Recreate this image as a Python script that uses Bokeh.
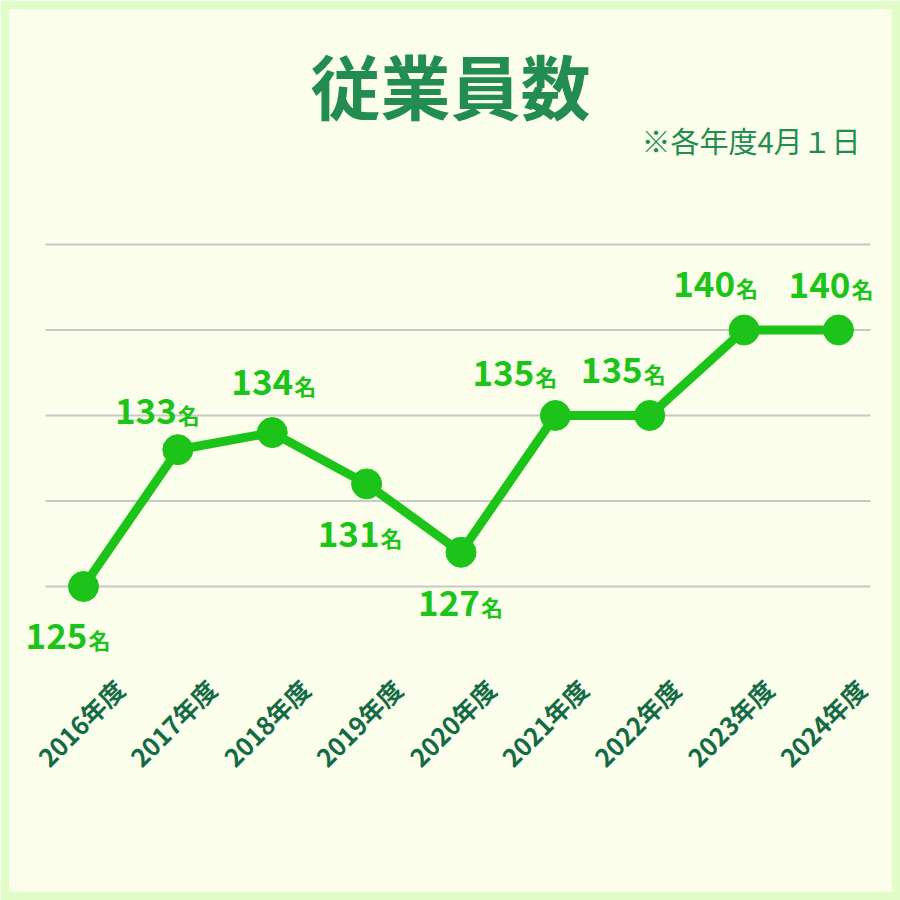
import math
from bokeh.plotting import figure
from bokeh.models import Range1d, LabelSet, Label, ColumnDataSource
from bokeh.core.properties import value
from bokeh.embed import file_html
from bokeh.resources import INLINE

# ---- data ----
years = [2016, 2017, 2018, 2019, 2020, 2021, 2022, 2023, 2024]
employees = [125, 133, 134, 131, 127, 135, 135, 140, 140]
tick_labels = ["2016年度", "2017年度", "2018年度", "2019年度", "2020年度",
               "2021年度", "2022年度", "2023年度", "2024年度"]
grid_values = [125, 130, 135, 140, 145]
title_text = "従業員数"
subtitle_text = "※各年度4月１日"
unit_text = "名"

# ---- styles ----
BG = "#fafeea"
RING = "#e2fcc8"
LINE_GREEN = "#1cc41a"
TITLE_GREEN = "#238c50"
TICK_GREEN = "#136a45"
CJK = "Noto Sans CJK JP"

# label placement (pixels): right end of number and baseline, relative to point
num_dx = [4, -1, 21, 13, 19, -21, -7, -9, 12]
num_dy = [-62, 26, 38, -63, -64, 30, 33, 33, 32]
tick_dx = [-3, -5, -6, -8, -9, -11, -13, -14, -16]
grid_x0, grid_x1 = 2015.597, 2024.339

p = figure(width=900, height=900, output_backend="svg", toolbar_location=None,
           x_range=Range1d(2015.2159, 2024.5616), y_range=Range1d(107.164, 158.743),
           min_border_left=9, min_border_right=9, min_border_top=9, min_border_bottom=9,
           background_fill_color=BG, border_fill_color=RING, outline_line_color=None)
p.xaxis.visible = False
p.yaxis.visible = False
p.xgrid.visible = False
p.ygrid.visible = False

grid_src = ColumnDataSource(dict(y=grid_values,
                                 x0=[grid_x0] * len(grid_values),
                                 x1=[grid_x1] * len(grid_values)))
p.segment(x0="x0", y0="y", x1="x1", y1="y", source=grid_src,
          line_color="#c8c8c8", line_width=2)

src = ColumnDataSource(dict(
    x=years, y=employees,
    num=[str(v) for v in employees],
    unit=[unit_text] * len(years),
    ndx=num_dx, ndy=num_dy,
    udx=[d + 1 for d in num_dx],
    tick=tick_labels, tdx=tick_dx,
    ty=[117.047] * len(years),
))

p.line("x", "y", source=src, line_width=9, line_color=LINE_GREEN, line_join="round")
p.scatter("x", "y", source=src, size=30, fill_color=LINE_GREEN, line_color=LINE_GREEN)

p.add_layout(LabelSet(x="x", y="y", text="num", source=src, x_offset="ndx", y_offset="ndy",
                      text_align="right", text_baseline="alphabetic",
                      text_font=value(CJK), text_font_style="bold", text_font_size="35px",
                      text_color=LINE_GREEN))
p.add_layout(LabelSet(x="x", y="y", text="unit", source=src, x_offset="udx", y_offset="ndy",
                      text_align="left", text_baseline="alphabetic",
                      text_font=value(CJK), text_font_style="bold", text_font_size="22px",
                      text_color=LINE_GREEN))
p.add_layout(LabelSet(x="x", y="ty", text="tick", source=src, x_offset="tdx",
                      angle=math.pi / 4, text_align="center", text_baseline="middle",
                      text_font=value(CJK), text_font_style="bold", text_font_size="25px",
                      text_color=TICK_GREEN))

p.add_layout(Label(x=2019.889, y=154.357, text=title_text, text_align="center",
                   text_baseline="middle", text_font=CJK, text_font_style="bold",
                   text_font_size="70px", text_color=TITLE_GREEN))
p.add_layout(Label(x=2024.233, y=151.111, text=subtitle_text, text_align="right",
                   text_baseline="middle", text_font=CJK, text_font_style="normal",
                   text_font_size="29px", text_color=TITLE_GREEN))

open("out.html", "w").write(file_html(p, INLINE))
